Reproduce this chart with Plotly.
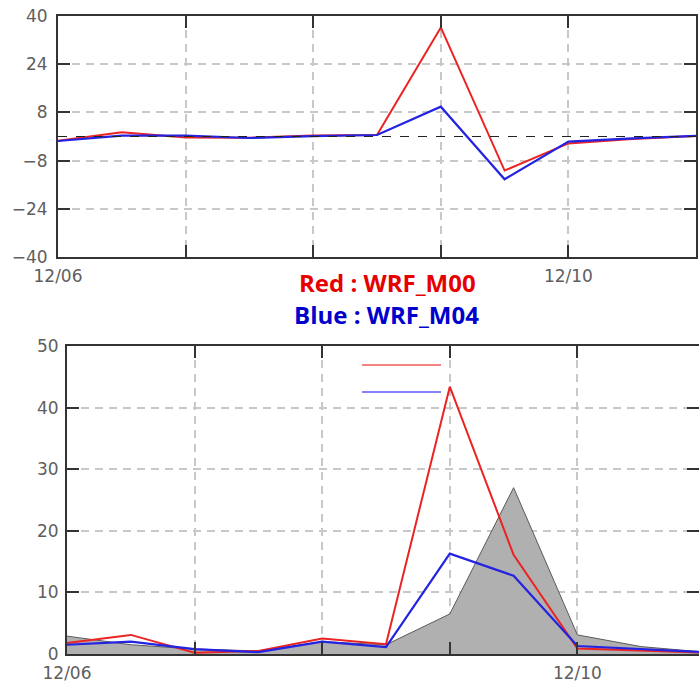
import pandas as pd
import plotly.graph_objects as go

# ---- data ----
times = pd.date_range("2016-12-06 00:00", periods=11, freq="12h")
diff_m00 = [-1.4, 1.4, -0.3, -0.4, 0.3, 0.5, 36.2, -11.3, -2.3, -0.8, 0.2]
diff_m04 = [-1.5, 0.3, 0.3, -0.5, 0.1, 0.5, 9.9, -14.2, -1.7, -0.6, 0.2]

obs = [2.9, 1.5, 0.8, 0.5, 2.0, 1.5, 6.5, 27.0, 3.1, 1.2, 0.3]
wrf_m00 = [1.8, 3.1, 0.2, 0.5, 2.5, 1.6, 43.4, 16.1, 0.9, 0.5, 0.2]
wrf_m04 = [1.5, 2.0, 0.8, 0.3, 2.0, 1.1, 16.3, 12.7, 1.3, 0.8, 0.3]

day_ticks = pd.date_range("2016-12-06", periods=6, freq="D")
day_labels = ["12/06", "", "", "", "12/10", ""]
top_yticks = [-40, -24, -8, 8, 24, 40]
bot_yticks = [0, 10, 20, 30, 40, 50]

RED = "rgb(235,35,35)"
BLUE = "rgb(35,35,225)"

fig = go.Figure()
fig.add_trace(go.Scatter(x=times, y=diff_m00, mode="lines", line=dict(color=RED, width=2),
                         xaxis="x", yaxis="y", showlegend=False))
fig.add_trace(go.Scatter(x=times, y=diff_m04, mode="lines", line=dict(color=BLUE, width=2.2),
                         xaxis="x", yaxis="y", showlegend=False))

fig.add_trace(go.Scatter(x=times, y=obs, mode="lines", fill="tozeroy",
                         fillcolor="rgb(176,176,176)", line=dict(color="rgb(90,90,90)", width=1),
                         xaxis="x2", yaxis="y2", showlegend=False))
fig.add_trace(go.Scatter(x=times, y=wrf_m00, mode="lines", line=dict(color=RED, width=2),
                         xaxis="x2", yaxis="y2", showlegend=False))
fig.add_trace(go.Scatter(x=times, y=wrf_m04, mode="lines", line=dict(color=BLUE, width=2.2),
                         xaxis="x2", yaxis="y2", showlegend=False))

W, H = 699, 686
tickfont = dict(family="DejaVu Sans", size=17, color="#5e5e5e")
grid = dict(showgrid=True, gridcolor="#c8c8c8", gridwidth=1.6, griddash="8px,6px")
axline = dict(showline=True, linecolor="#333", linewidth=2, mirror="ticks",
              ticks="inside", ticklen=12, tickwidth=2, tickcolor="#333", tickfont=tickfont,
              zeroline=False, automargin=False)

xcommon = dict(type="date", tickvals=day_ticks, ticktext=day_labels,
               ticklabelstandoff=3, **grid, **axline)

bot_end = pd.Timestamp("2016-12-06") + pd.Timedelta(days=(W - 67) / 127.6)

fig.update_layout(
    width=W, height=H, margin=dict(l=0, r=0, t=0, b=0),
    paper_bgcolor="white", plot_bgcolor="white",
    xaxis=dict(domain=[58 / W, 696 / W], anchor="y",
               range=[times[0], times[-1]], **xcommon),
    yaxis=dict(domain=[1 - 257 / H, 1 - 16 / H], anchor="x", range=[-40, 40],
               tickvals=top_yticks, ticktext=[str(v).replace("-", "\u2212") for v in top_yticks],
               ticklabelstandoff=5, **grid, **axline),
    xaxis2=dict(domain=[67 / W, 1.0], anchor="y2",
                range=[times[0], bot_end], **xcommon),
    yaxis2=dict(domain=[1 - 654 / H, 1 - 346 / H], anchor="x2", range=[0, 50],
                tickvals=bot_yticks, ticklabelstandoff=3, **grid, **axline),
)

# zero reference line on difference panel
fig.add_hline(y=0, line=dict(color="#222", width=1.2, dash="dash"), xref="x", yref="y")

# legend stubs inside bottom panel
fig.add_shape(type="line", xref="paper", yref="paper", x0=362 / W, x1=441 / W,
              y0=1 - 365 / H, y1=1 - 365 / H, line=dict(color="rgb(240,90,90)", width=1.5))
fig.add_shape(type="line", xref="paper", yref="paper", x0=362 / W, x1=441 / W,
              y0=1 - 392 / H, y1=1 - 392 / H, line=dict(color="rgb(90,90,240)", width=1.5))

fig.add_annotation(text="<b>Red : WRF_M00</b>", x=387 / W, y=1 - 283 / H, xref="paper", yref="paper",
                   showarrow=False, font=dict(family="Open Sans", size=24, color="rgb(230,0,0)"))
fig.add_annotation(text="<b>Blue : WRF_M04</b>", x=386 / W, y=1 - 315 / H, xref="paper", yref="paper",
                   showarrow=False, font=dict(family="Open Sans", size=24, color="rgb(0,0,205)"))

fig.write_html("out.html")
